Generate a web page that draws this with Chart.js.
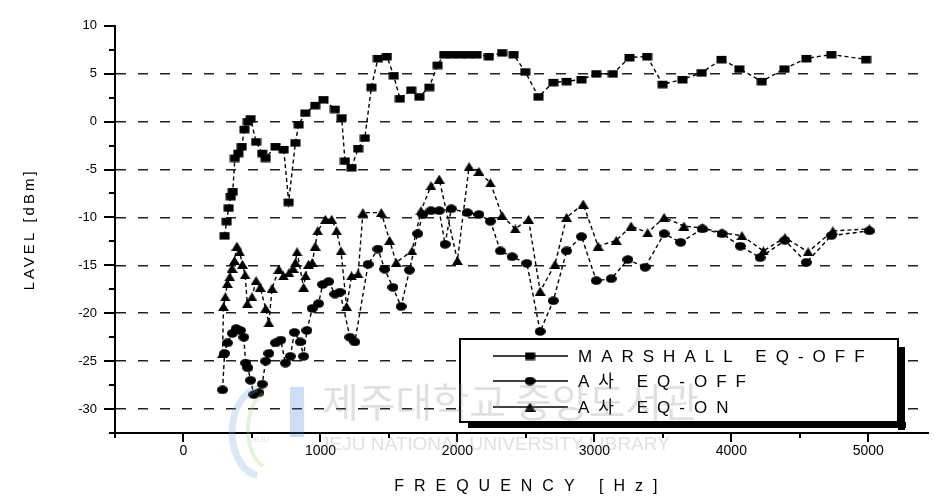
<!DOCTYPE html>
<html><head><meta charset="utf-8">
<script src="https://cdn.jsdelivr.net/npm/chart.js@4.4.1/dist/chart.umd.min.js"></script>
<style>html,body{margin:0;padding:0;background:#fff}#wrap{width:935px;height:498px}</style>
</head><body><div id="wrap"><canvas id="c" width="935" height="498"></canvas></div>
<script>
// ---- data ----
const seriesLabels = ['MARSHALL EQ-OFF', 'A사 EQ-OFF', 'A사 EQ-ON'];
const xTickLabels = [0, 1000, 2000, 3000, 4000, 5000];
const yTickLabels = [10, 5, 0, -5, -10, -15, -20, -25, -30];

const marshallFreq  = [300,315,330,345,360,375,400,425,445,470,490,530,575,600,672,732,768,817,841,889,962,1022,1106,1155,1179,1227,1275,1324,1372,1420,1485,1535,1580,1662,1722,1795,1855,1903,1960,2020,2080,2140,2230,2326,2410,2495,2592,2700,2797,2906,3014,3135,3256,3385,3498,3643,3783,3928,4058,4222,4387,4548,4730,4983];
const marshallLevel = [-11.9,-10.4,-9.0,-7.8,-7.3,-3.8,-3.3,-2.6,-0.8,0.0,0.3,-2.1,-3.3,-3.8,-2.6,-2.9,-8.4,-2.2,-0.3,0.9,1.7,2.3,1.3,0.4,-4.1,-4.8,-2.8,-1.7,3.6,6.6,6.8,4.8,2.4,3.3,2.6,3.6,5.9,7.0,7.0,7.0,7.0,7.0,6.8,7.2,7.0,5.2,2.6,4.1,4.2,4.4,5.0,5.0,6.7,6.8,3.9,4.4,5.1,6.5,5.5,4.2,5.5,6.6,7.0,6.5];

const aOffFreq  = [285,300,320,357,385,415,440,454,470,490,514,551,575,600,623,672,710,744,780,810,853,877,901,940,986,1016,1060,1106,1143,1215,1251,1348,1420,1469,1529,1589,1650,1710,1746,1807,1867,1910,1955,2072,2157,2241,2314,2399,2507,2604,2700,2797,2906,3014,3123,3244,3370,3509,3630,3788,3932,4065,4210,4391,4548,4730,5007];
const aOffLevel = [-28.0,-24.2,-23.1,-22.1,-21.6,-21.8,-22.5,-25.2,-25.7,-27.0,-28.5,-28.3,-27.4,-25.0,-24.2,-23.1,-22.8,-25.2,-24.5,-22.0,-23.0,-24.5,-21.8,-19.5,-19.0,-17.0,-16.7,-18.0,-17.8,-22.5,-23.0,-14.9,-13.3,-15.4,-17.3,-19.3,-15.5,-11.7,-9.7,-9.3,-9.3,-12.8,-9.1,-9.5,-9.7,-10.4,-13.5,-14.1,-14.8,-21.9,-18.7,-13.5,-12.0,-16.6,-16.4,-14.4,-15.2,-11.7,-12.6,-11.2,-11.7,-13.0,-14.2,-12.4,-14.7,-11.9,-11.4];

const aOnFreq  = [285,292,305,320,338,355,372,390,410,430,450,466,500,530,560,600,623,647,696,730,770,800,817,829,877,891,913,940,962,980,1036,1082,1118,1150,1191,1227,1275,1310,1444,1505,1553,1668,1734,1807,1867,2000,2085,2157,2241,2326,2422,2519,2604,2712,2797,2918,3027,3160,3268,3389,3509,3654,3788,3932,4077,4234,4391,4560,4741,5007];
const aOnLevel = [-24.2,-19.3,-18.3,-16.9,-16.2,-15.3,-14.5,-13.0,-13.6,-14.9,-16.0,-19.0,-18.3,-16.6,-17.3,-19.5,-21.0,-17.4,-15.4,-16.1,-15.8,-15.3,-14.7,-13.6,-17.3,-16.1,-14.9,-14.7,-13.0,-11.4,-10.2,-10.2,-11.4,-13.5,-19.3,-16.1,-15.9,-9.5,-9.5,-12.4,-14.7,-13.5,-9.3,-6.7,-6.0,-14.5,-4.7,-5.2,-6.4,-9.8,-11.2,-10.2,-17.7,-14.9,-10.0,-8.6,-13.0,-12.4,-10.9,-11.6,-10.0,-10.9,-11.1,-11.6,-11.9,-13.5,-12.1,-13.6,-11.4,-11.2];

// axis tick positions (labelled + minor)
const xTickValues = [-500,0,500,1000,1500,2000,2500,3000,3500,4000,4500,5000];
const yTickValues = [-32.5,-30,-27.5,-25,-22.5,-20,-17.5,-15,-12.5,-10,-7.5,-5,-2.5,0,2.5,5,7.5,10];

// ---- marker images ----
function makeMarker(kind){
  const c = document.createElement('canvas');
  c.width = 11; c.height = 9;
  const g = c.getContext('2d');
  g.fillStyle = '#000';
  if (kind === 'rect') { g.fillRect(0.5, 1, 10, 7.5); }
  else if (kind === 'circle') { g.beginPath(); g.ellipse(5.5, 4.5, 5.5, 4.2, 0, 0, Math.PI*2); g.fill(); }
  else { g.beginPath(); g.moveTo(5.5, 0); g.lineTo(11, 9); g.lineTo(0, 9); g.closePath(); g.fill(); }
  return c;
}
const markers = [makeMarker('rect'), makeMarker('circle'), makeMarker('tri')];

function toPts(xs, ys){ return xs.map((x,i)=>({x:x, y:ys[i]})); }
function near(list, v){ return list.some(t => Math.abs(t - v) < 1e-6); }

const FONT = '"Liberation Sans", Arial, "Noto Sans CJK KR", sans-serif';

// ---- custom plugin: ticks, legend, watermark, spaced titles ----
const decor = {
  id: 'decor',
  beforeDraw(chart){
    ['x','y'].forEach(id=>{
      const s = chart.scales[id];
      if (!s._spaced) {
        const orig = s.drawTitle.bind(s);
        s.drawTitle = function(){
          const c = this.ctx; c.save();
          if (id === 'x') { c.letterSpacing = '10px'; c.translate(9, 0); }
          else { c.letterSpacing = '3px'; }
          orig(); c.restore();
        };
        s._spaced = true;
      }
    });
  },
  afterDraw(chart){
    const ctx = chart.ctx, xs = chart.scales.x, ys = chart.scales.y, a = chart.chartArea;
    ctx.save();
    ctx.strokeStyle = '#000'; ctx.lineWidth = 2;
    yTickValues.forEach(v=>{
      const py = Math.round(ys.getPixelForValue(v));
      const len = near(yTickLabels, v) ? 11 : 6;
      ctx.beginPath(); ctx.moveTo(a.left - len, py); ctx.lineTo(a.left, py); ctx.stroke();
    });
    xTickValues.forEach(v=>{
      const px = Math.round(xs.getPixelForValue(v));
      const len = near(xTickLabels, v) ? 9 : 5;
      ctx.beginPath(); ctx.moveTo(px, a.bottom); ctx.lineTo(px, a.bottom + len); ctx.stroke();
    });
    // legend box with shadow
    const L = 460, T = 339, R = 898, B = 422;
    ctx.fillStyle = '#000';
    ctx.fillRect(L + 8, B, R - L, 6);
    ctx.fillRect(R, T + 8, 7, B - T);
    ctx.fillStyle = '#fff';
    ctx.fillRect(L, T, R - L, B - T);
    ctx.lineWidth = 2; ctx.strokeStyle = '#000';
    ctx.strokeRect(L, T, R - L, B - T);
    const rowsY = [356, 381, 407];
    ctx.font = '17px ' + FONT;
    ctx.textBaseline = 'middle'; ctx.textAlign = 'left';
    chart.data.datasets.forEach((ds, i)=>{
      const y = rowsY[i];
      ctx.lineWidth = 1.5; ctx.setLineDash([]);
      ctx.beginPath(); ctx.moveTo(493, y); ctx.lineTo(568, y); ctx.stroke();
      const m = markers[i];
      ctx.drawImage(m, 530 - m.width/2, y - m.height/2);
      ctx.fillStyle = '#000';
      ctx.letterSpacing = '9px';
      ctx.fillText(ds.label, 578, y + 1);
      ctx.letterSpacing = '0px';
    });
    // watermark
    ctx.globalAlpha = 0.26;
    ctx.strokeStyle = '#6aa8d8'; ctx.lineWidth = 7;
    ctx.beginPath(); ctx.ellipse(262, 432, 30, 44, 0, Math.PI*0.55, Math.PI*1.45); ctx.stroke();
    ctx.strokeStyle = '#9ccf6a'; ctx.lineWidth = 4;
    ctx.beginPath(); ctx.ellipse(270, 430, 22, 38, 0, Math.PI*0.6, Math.PI*1.4); ctx.stroke();
    ctx.fillStyle = '#3f7fd0';
    ctx.fillRect(290, 387, 14, 50);
    ctx.fillStyle = '#888';
    ctx.font = '40px "Noto Sans CJK KR", sans-serif';
    ctx.textBaseline = 'middle';
    ctx.fillText('제주대학교 중앙도서관', 322, 402);
    ctx.font = '19px "Liberation Sans Narrow", "Liberation Sans", sans-serif';
    ctx.fillText('JEJU NATIONAL UNIVERSITY LIBRARY', 320, 445);
    ctx.font = '8px sans-serif';
    ctx.fillText('JEJU', 250, 440);
    ctx.restore();
  }
};

new Chart(document.getElementById('c'), {
  type: 'scatter',
  data: {
    datasets: [
      { label: seriesLabels[0], data: toPts(marshallFreq, marshallLevel), pointStyle: markers[0] },
      { label: seriesLabels[1], data: toPts(aOffFreq, aOffLevel), pointStyle: markers[1] },
      { label: seriesLabels[2], data: toPts(aOnFreq, aOnLevel), pointStyle: markers[2] }
    ].map(d => Object.assign(d, { showLine: true, borderColor: '#000', borderWidth: 1.4, borderDash: [4, 3], backgroundColor: '#000', pointRadius: 5, tension: 0 }))
  },
  options: {
    responsive: false, animation: false, devicePixelRatio: 1,
    layout: { padding: { top: 23, left: 0, right: 0, bottom: 0 } },
    plugins: { legend: { display: false }, tooltip: { enabled: false } },
    scales: {
      x: {
        type: 'linear', min: -500, max: 5440,
        afterBuildTicks(s){ s.ticks = xTickValues.map(v => ({ value: v })); },
        afterFit(s){ s.height = 65; },
        ticks: { autoSkip: false, maxRotation: 0, minRotation: 0, padding: 10, color: '#000',
                 font: { family: FONT, size: 14 },
                 callback: function(v){ return near(xTickLabels, v) ? String(Math.round(v)) : ''; } },
        grid: { drawOnChartArea: false, drawTicks: false },
        border: { display: true, color: '#000', width: 2 },
        title: { display: true, text: 'FREQUENCY [Hz]', color: '#000', font: { family: FONT, size: 16 }, padding: { top: 0, bottom: 2 } }
      },
      y: {
        min: -32.5, max: 10,
        afterBuildTicks(s){ s.ticks = yTickValues.map(v => ({ value: v })); },
        afterFit(s){ s.width = 115; },
        ticks: { autoSkip: false, padding: 18, color: '#000',
                 font: { family: FONT, size: 13 },
                 callback: function(v){ return near(yTickLabels, v) ? String(Math.round(v)) : ''; } },
        grid: { drawTicks: false, lineWidth: 1.6,
                color: c => (c.tick && near(yTickLabels, c.tick.value) && c.tick.value < 10) ? '#222' : 'rgba(0,0,0,0)' },
        border: { display: true, color: '#000', width: 2, dash: [10, 12], dashOffset: 0 },
        title: { display: true, text: 'LAVEL [dBm]', color: '#000', font: { family: FONT, size: 15 }, padding: { top: 21, bottom: 0 } }
      }
    }
  },
  plugins: [decor]
});
</script>
</body></html>
